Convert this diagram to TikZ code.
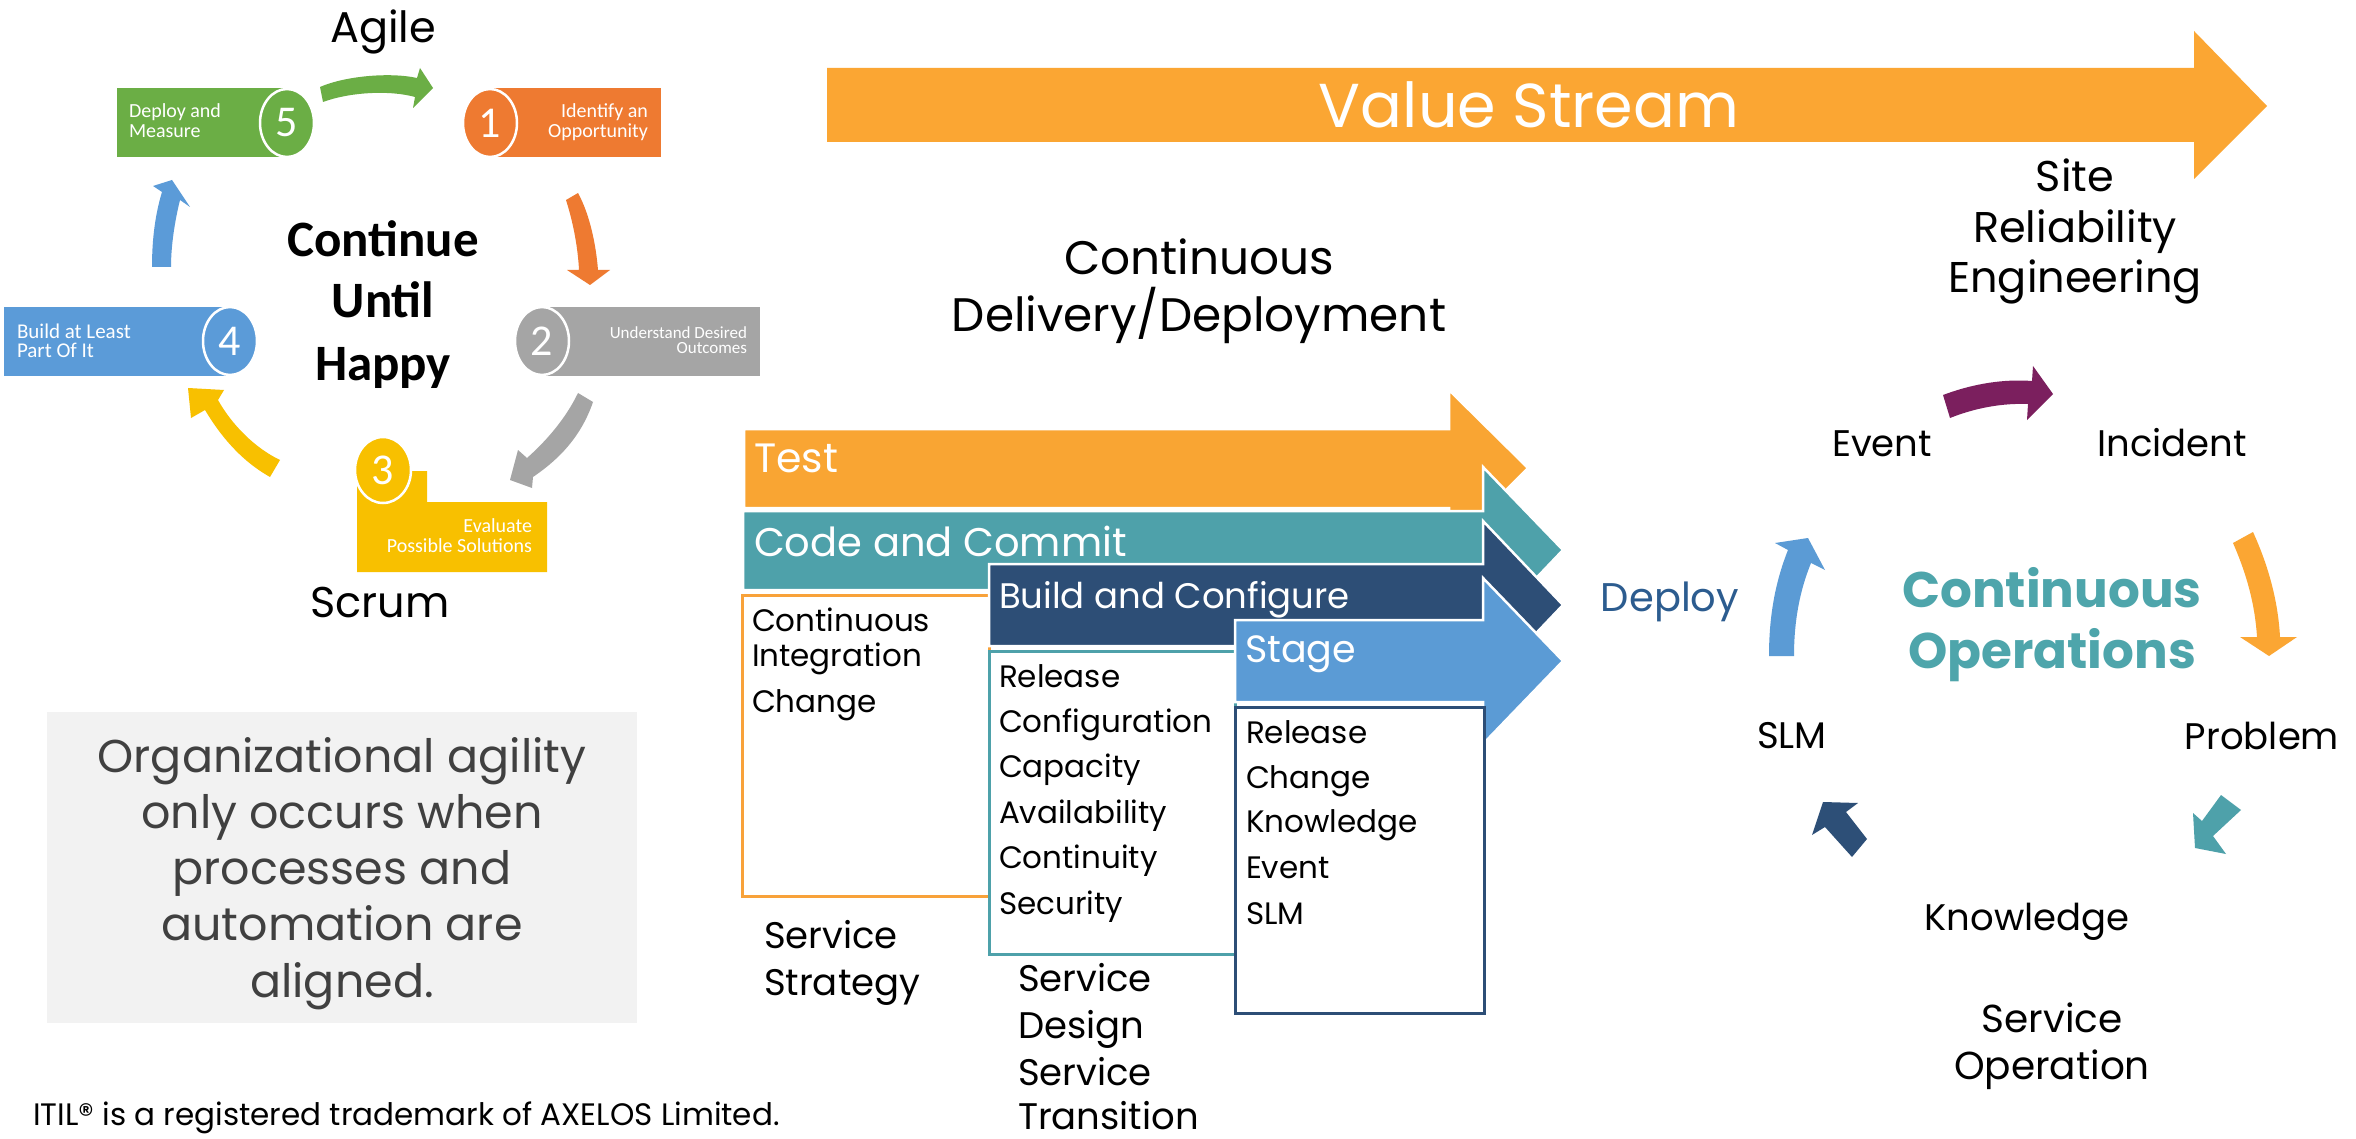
\documentclass[tikz,border=0pt]{standalone}
\usepackage{fontspec}
\usetikzlibrary{shapes.geometric}
\setmainfont{Poppins}
\newfontfamily\calfont{Carlito}
\newcommand\myfs[1]{\fontsize{#1}{#1}\selectfont}
\definecolor{vsorange}{HTML}{FBA633}
\definecolor{testorange}{HTML}{F9A533}
\definecolor{codeteal}{HTML}{4EA1AA}
\definecolor{navy}{HTML}{2D4E76}
\definecolor{stageblue}{HTML}{5B9BD5}
\definecolor{boxorange}{HTML}{F8A23A}
\definecolor{deploytxt}{HTML}{2C5C8F}
\definecolor{opsteal}{HTML}{4EA5AB}
\definecolor{purp}{HTML}{7B1F5E}
\definecolor{cgreen}{HTML}{6BAE45}
\definecolor{corange}{HTML}{EE7A31}
\definecolor{cgray}{HTML}{A5A5A5}
\definecolor{cyellow}{HTML}{F8C000}
\definecolor{cblue}{HTML}{5B9BD8}
\definecolor{graybox}{HTML}{F2F2F2}
\definecolor{graytxt}{HTML}{404040}
\definecolor{darkarrow}{HTML}{2D4F77}
\begin{document}
\begin{tikzpicture}[x=1pt,y=-1pt, inner sep=0pt, outer sep=0pt,
  wl/.style={anchor=base west}, cl/.style={anchor=base}, wr/.style={anchor=base east},
  numc/.style={ellipse, draw=white, line width=2.5pt, minimum width=54pt, minimum height=68pt, text=white, font=\calfont\myfs{44}},
  boxtxt/.style={text=white, font=\calfont\myfs{20}},
  band/.style={draw=white, line width=2.5pt},
  outbox/.style={line width=3pt, fill=white},
  midtxt/.style={font=\myfs{31}},
  bigtxt/.style={font=\myfs{37}},
  optxt/.style={font=\myfs{37}}]
\useasboundingbox (0,0) rectangle (2356,1139);
\fill[white] (0,0) rectangle (2356,1139);

% ---------------- Value stream ----------------
\fill[vsorange] (827,68) -- (2194,68) -- (2194,31) -- (2267,106) -- (2194,179) -- (2194,142) -- (827,142) -- cycle;
\node[cl, text=white, font=\myfs{62}] (vs) at (1529,128) {Value Stream};

\node[cl, font=\myfs{43}] (sre1) at (2075,192) {Site};
\node[cl, font=\myfs{43}] (sre2) at (2075,243) {Reliability};
\node[cl, font=\myfs{43}] (sre3) at (2075,293) {Engineering};

\node[cl, font=\myfs{47}] (cd1) at (1199,275) {Continuous};
\node[cl, font=\myfs{47}] (cd2) at (1199,332) {Delivery/Deployment};

% ---------------- Middle arrows ----------------
\filldraw[band, fill=testorange] (744,429) -- (1449,429) -- (1449,390) -- (1528,468) -- (1449,547) -- (1449,508) -- (744,508) -- cycle;
\node[wl, text=white, font=\myfs{41}] (test) at (754,472) {Test};
\filldraw[band, fill=codeteal] (743,511) -- (1483,511) -- (1483,467) -- (1563,550) -- (1483,634) -- (1483,590) -- (743,590) -- cycle;
\node[wl, text=white, font=\myfs{40}] (code) at (754,556) {Code and Commit};
\draw[outbox, draw=boxorange] (742,595) rectangle (989,896);
\filldraw[band, fill=navy] (989,564) -- (1483,564) -- (1483,521) -- (1563,605) -- (1483,689) -- (1483,646) -- (989,646) -- cycle;
\node[wl, text=white, font=\myfs{35.5}] (build) at (999,608) {Build and Configure};
\draw[outbox, draw=codeteal] (989,651) rectangle (1235,954);
\filldraw[band, fill=stageblue] (1235,620) -- (1483,620) -- (1483,578) -- (1563,661) -- (1483,744) -- (1483,702) -- (1235,702) -- cycle;
\node[wl, text=white, font=\myfs{38}] (stage) at (1245,662) {Stage};
\draw[outbox, draw=navy] (1235,707) rectangle (1484,1013);

\node[wl, midtxt] (o1) at (752,631) {Continuous};
\node[wl, midtxt] (o2) at (752,666) {Integration};
\node[wl, midtxt] (o3) at (752,712) {Change};

\node[wl, midtxt] (t1) at (999,687) {Release};
\node[wl, midtxt] (t2) at (999,732) {Configuration};
\node[wl, midtxt] (t3) at (999,777) {Capacity};
\node[wl, midtxt] (t4) at (999,823) {Availability};
\node[wl, midtxt] (t5) at (999,868) {Continuity};
\node[wl, midtxt] (t6) at (999,914) {Security};

\node[wl, midtxt] (d1) at (1246,743) {Release};
\node[wl, midtxt] (d2) at (1246,788) {Change};
\node[wl, midtxt] (d3) at (1246,832) {Knowledge};
\node[wl, midtxt] (d4) at (1246,878) {Event};
\node[wl, midtxt] (d5) at (1246,924) {SLM};

\node[wl, bigtxt] (ss1) at (764,948) {Service};
\node[wl, bigtxt] (ss2) at (764,995) {Strategy};
\node[wl, bigtxt] (sd1) at (1018,991) {Service};
\node[wl, bigtxt] (sd2) at (1018,1038) {Design};
\node[wl, bigtxt] (sd3) at (1018,1085) {Service};
\node[wl, bigtxt] (sd4) at (1018,1129) {Transition};

% ---------------- Continuous operations ----------------
\node[cl, text=deploytxt, font=\myfs{40}] (deploy) at (1670,611) {Deploy};
\node[cl, optxt] (event) at (1882,456) {Event};
\node[cl, optxt] (incident) at (2172,456) {Incident};
\node[cl, optxt] (problem) at (2262,749) {Problem};
\node[cl, optxt] (slm) at (1792,748) {SLM};
\node[cl, optxt] (know) at (2027,930) {Knowledge};
\node[cl, font=\myfs{39}] (so1) at (2052,1032) {Service};
\node[cl, font=\myfs{39}] (so2) at (2052,1079) {Operation};
\node[cl, text=opsteal, font=\bfseries\myfs{50}] (co1) at (2052,607) {Continuous};
\node[cl, text=opsteal, font=\bfseries\myfs{50}] (co2) at (2052,668) {Operations};

\fill[purp] (1943,395) .. controls (1975,383) and (2005,379) .. (2032,381) -- (2033,366) -- (2053,394) -- (2027,420) -- (2028,404) .. controls (2002,403) and (1975,408) .. (1950,418) -- cycle;
\fill[vsorange] (2233,543) .. controls (2247,575) and (2255,605) .. (2257,637) -- (2240,637) -- (2269,656) -- (2297,637) -- (2280,637) .. controls (2278,600) and (2268,565) .. (2253,532) -- cycle;
\fill[codeteal] (2221,795) -- (2202,821) -- (2193,813) -- (2195,848) -- (2226,854) -- (2213,836) -- (2241,810) -- cycle;
\fill[darkarrow] (1852,857) -- (1825,827) -- (1812,835) -- (1823,802) -- (1858,803) -- (1846,812) -- (1867,839) -- cycle;
\fill[stageblue] (1769,656) .. controls (1769,620) and (1774,585) .. (1788,550) -- (1775,543) -- (1808,538) -- (1825,570) -- (1811,563) .. controls (1800,590) and (1794,620) .. (1794,656) -- cycle;

% ---------------- Agile cycle ----------------
\node[cl, font=\myfs{43}] (agile) at (383,43) {Agile};
\node[cl, font=\myfs{43}] (scrum) at (380,617) {Scrum};
\node[cl, font=\calfont\bfseries\myfs{51}] (cu1) at (383,257) {Continue};
\node[cl, font=\calfont\bfseries\myfs{51}] (cu2) at (383,318) {Until};
\node[cl, font=\calfont\bfseries\myfs{51}] (cu3) at (383,381) {Happy};

\fill[cgreen] (117,88) rectangle (287,157);
\node[numc, fill=cgreen] (n5) at (287,123) {5};
\node[boxtxt, wl] (t5a) at (129,118) {Deploy and};
\node[boxtxt, wl] (t5b) at (129,138) {Measure};

\fill[corange] (490,88) rectangle (661,157);
\node[numc, fill=corange] (n1) at (490,123) {1};
\node[boxtxt, wr] (t1a) at (648,118) {Identify an};
\node[boxtxt, wr] (t1b) at (648,138) {Opportunity};

\fill[cgray] (540,307) rectangle (760,376);
\node[numc, fill=cgray] (n2) at (542,341) {2};
\node[boxtxt, wr, font=\calfont\myfs{17}] (t2a) at (747,339) {Understand Desired};
\node[boxtxt, wr, font=\calfont\myfs{17}] (t2b) at (747,354) {Outcomes};

\fill[cblue] (4,307) rectangle (230,376);
\node[numc, fill=cblue] (n4) at (230,341) {4};
\node[boxtxt, wl, font=\calfont\myfs{21}] (t4a) at (17,339) {Build at Least};
\node[boxtxt, wl, font=\calfont\myfs{21}] (t4b) at (17,358) {Part Of It};

\fill[cyellow] (357,471) -- (427,471) -- (427,502) -- (547,502) -- (547,572) -- (357,572) -- cycle;
\node[numc, fill=cyellow, minimum width=56pt, minimum height=66pt] (n3) at (383,470) {3};
\node[boxtxt, wr] (t3a) at (532,532) {Evaluate};
\node[boxtxt, wr] (t3b) at (532,552) {Possible Solutions};

\fill[cgreen] (320,87) .. controls (345,76) and (390,72) .. (417,78) -- (420,68) -- (433,88) -- (413,108) -- (415,97) .. controls (390,90) and (350,92) .. (323,102) -- cycle;
\fill[corange] (566,200) .. controls (574,225) and (578,250) .. (579,270) -- (567,270) -- (590,285) -- (610,270) -- (598,270) .. controls (596,245) and (590,215) .. (578,193) -- cycle;
\fill[cgray] (578,393) .. controls (565,420) and (545,442) .. (527,458) -- (518,450) -- (510,480) -- (532,488) -- (533,477) .. controls (555,462) and (580,440) .. (593,402) -- cycle;
\fill[cyellow] (270,477) .. controls (240,460) and (220,435) .. (205,410) -- (191,418) -- (188,388) -- (224,390) -- (218,400) .. controls (232,425) and (255,448) .. (280,460) -- cycle;
\fill[cblue] (152,267) .. controls (152,240) and (155,215) .. (162,192) -- (153,186) -- (172,180) -- (190,207) -- (180,200) .. controls (175,220) and (171,245) .. (171,267) -- cycle;

% ---------------- Bottom left ----------------
\fill[graybox] (47,712) rectangle (637,1023);
\node[cl, text=graytxt, font=\myfs{46}] (g1) at (342,772) {Organizational agility};
\node[cl, text=graytxt, font=\myfs{46}] (g2) at (342,828) {only occurs when};
\node[cl, text=graytxt, font=\myfs{46}] (g3) at (342,884) {processes and};
\node[cl, text=graytxt, font=\myfs{46}] (g4) at (342,940) {automation are};
\node[cl, text=graytxt, font=\myfs{46}] (g5) at (342,997) {aligned.};
\node[wl, font=\myfs{31}] (itil) at (33,1125) {ITIL® is a registered trademark of AXELOS Limited.};
\end{tikzpicture}
\end{document}
